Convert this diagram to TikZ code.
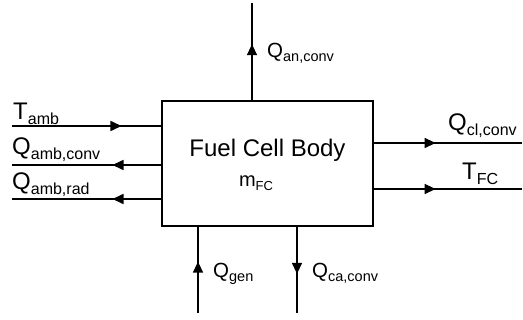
\documentclass[tikz,border=0pt]{standalone}
\usepackage{fontspec}
\setmainfont{Liberation Sans}
\usetikzlibrary{arrows.meta,decorations.markings}
\newcommand{\lbl}[2]{{\fontsize{24}{28}\selectfont #1}\raisebox{-4.5pt}{\fontsize{16}{18}\selectfont #2}}
\newcommand{\slbl}[2]{{\fontsize{20.5}{24}\selectfont #1}\raisebox{-4pt}{\fontsize{14.5}{16}\selectfont #2}}
\tikzset{
  flow/.style={line width=1.6pt, postaction={decorate},
    decoration={markings, mark=at position #1 with {\arrow{Triangle[length=11pt,width=10pt]}}}},
  lab/.style={inner sep=0pt, anchor=base west},
  bodybox/.style={draw, line width=2.6pt, minimum width=211pt, minimum height=125pt, inner sep=0pt}
}
\begin{document}
\begin{tikzpicture}[x=1pt,y=-1pt]
\useasboundingbox (0,0) rectangle (523,320);
\node[bodybox] (body) at (267.5,163.5) {};
\node[inner sep=0pt, anchor=base] (title) at (267.5,157) {\fontsize{24}{28}\selectfont Fuel Cell Body};
\node[inner sep=0pt, anchor=base] (mass) at (256,187) {{\fontsize{20}{24}\selectfont m}\raisebox{-4pt}{\fontsize{13}{16}\selectfont FC}};
% coordinates
\coordinate (top) at (252,3);
\coordinate (bt) at (252,101);
\coordinate (l1) at (12,126);  \coordinate (b1) at (162,126);
\coordinate (l2) at (12,165);  \coordinate (b2) at (162,165);
\coordinate (l3) at (12,199);  \coordinate (b3) at (162,199);
\coordinate (r1) at (522,143); \coordinate (br1) at (373,143);
\coordinate (r2) at (522,189); \coordinate (br2) at (373,189);
\coordinate (g1) at (198,313); \coordinate (bg1) at (198,226);
\coordinate (g2) at (297,313); \coordinate (bg2) at (297,226);
% connectors
\draw[flow=0.58] (bt) -- (top);
\draw[flow=0.73] (l1) -- (b1);
\draw[flow=0.33] (b2) -- (l2);
\draw[flow=0.33] (b3) -- (l3);
\draw[flow=0.42] (br1) -- (r1);
\draw[flow=0.42] (br2) -- (r2);
\draw[flow=0.59] (g1) -- (bg1);
\draw[flow=0.55] (bg2) -- (g2);
% labels
\node[lab] (qan) at (267,58) {\slbl{Q}{an,conv}};
\node[lab] (tamb) at (13,120) {\lbl{T}{amb}};
\node[lab] (qambc) at (12,155) {\lbl{Q}{amb,conv}};
\node[lab] (qambr) at (12,190) {\lbl{Q}{amb,rad}};
\node[lab] (qcl) at (448,131) {\lbl{Q}{cl,conv}};
\node[lab] (tfc) at (462,180) {\lbl{T}{FC}};
\node[lab] (qgen) at (213,278) {\slbl{Q}{gen}};
\node[lab] (qca) at (312,278) {\slbl{Q}{ca,conv}};
\end{tikzpicture}
\end{document}
